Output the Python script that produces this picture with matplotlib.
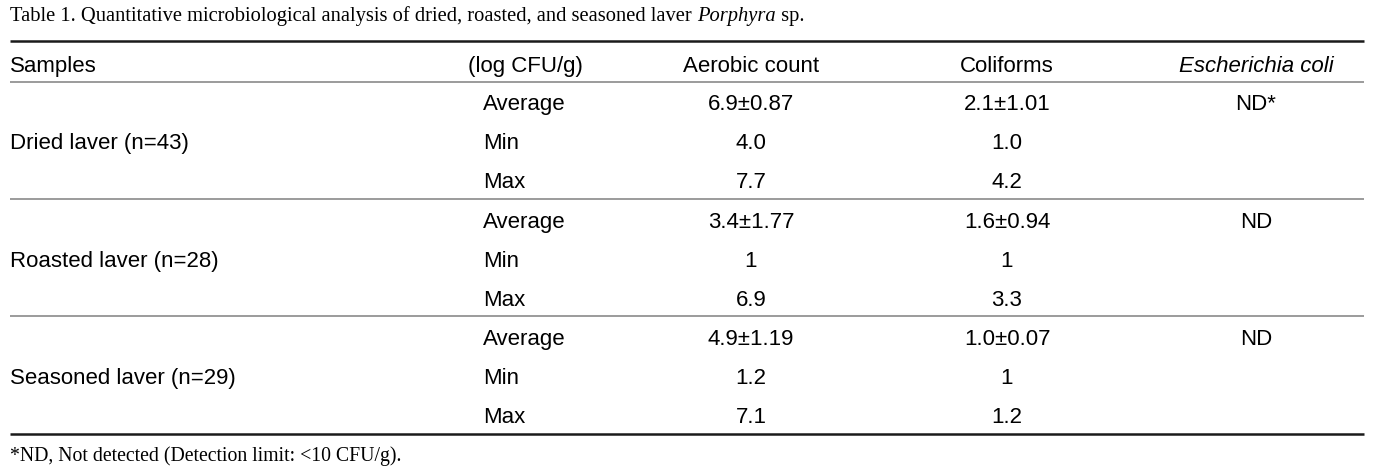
import matplotlib
matplotlib.use("Agg")
import matplotlib.pyplot as plt

title = "Table 1. Quantitative microbiological analysis of dried, roasted, and seasoned laver "
title_italic = "Porphyra"
title_end = " sp."
headers = ["Samples", "(log CFU/g)", "Aerobic count", "Coliforms", "Escherichia coli"]
samples = ["Dried laver (n=43)", "Roasted laver (n=28)", "Seasoned laver (n=29)"]
stats = ["Average", "Min", "Max"]
aerobic = [["6.9±0.87", "4.0", "7.7"], ["3.4±1.77", "1", "6.9"], ["4.9±1.19", "1.2", "7.1"]]
coliforms = [["2.1±1.01", "1.0", "4.2"], ["1.6±0.94", "1", "3.3"], ["1.0±0.07", "1", "1.2"]]
ecoli = ["ND*", "ND", "ND"]
footnote = "*ND, Not detected (Detection limit: <10 CFU/g)."

sans = "Liberation Sans"
serif = "Liberation Serif"

W, H = 1384, 470
fig = plt.figure(figsize=(W / 100, H / 100), dpi=100)
ax = fig.add_axes([0, 0, 1, 1])
ax.set_xlim(0, W)
ax.set_ylim(H, 0)
ax.axis("off")

fs = 16
tfs = 14.8
ffs = 14.2

# title (three runs: roman, italic, roman)
fig.canvas.draw()
r = fig.canvas.get_renderer()
ty = H - 21
t = ax.text(10, 21, title, family=serif, fontsize=tfs, va="baseline", ha="left")
bb = t.get_window_extent(r)
t2 = ax.text(bb.x1, ty, title_italic, family=serif, style="italic", fontsize=tfs,
             va="baseline", ha="left", transform=None)
bb2 = t2.get_window_extent(r)
ax.text(bb2.x1, ty, title_end, family=serif, fontsize=tfs, va="baseline", ha="left",
        transform=None)

x0, x1 = 10, 1364
ax.plot([x0, x1], [41, 41], color="#1a1a1a", lw=1.8, solid_capstyle="butt")
for yy in (82, 199, 316):
    ax.plot([x0, x1], [yy, yy], color="#808080", lw=1.1, solid_capstyle="butt")
ax.plot([x0, x1], [434, 434], color="#1a1a1a", lw=1.8, solid_capstyle="butt")

hy = 72
col_stat_x = 483
cols_c = [751, 1007, 1256]
ax.text(10, hy, headers[0], family=sans, fontsize=fs, va="baseline", ha="left")
ax.text(525, hy, headers[1], family=sans, fontsize=fs, va="baseline", ha="center")
ax.text(cols_c[0], hy, headers[2], family=sans, fontsize=fs, va="baseline", ha="center")
ax.text(cols_c[1], hy, headers[3], family=sans, fontsize=fs, va="baseline", ha="center")
ax.text(cols_c[2], hy, headers[4], family=sans, style="italic", fontsize=fs,
        va="baseline", ha="center")

row0 = [110, 228, 345]
dy = 39
for g, s in enumerate(samples):
    ax.text(10, row0[g] + dy, s, family=sans, fontsize=fs, va="baseline", ha="left")
    for k, st in enumerate(stats):
        y = row0[g] + k * dy
        ax.text(col_stat_x, y, st, family=sans, fontsize=fs, va="baseline", ha="left")
        ax.text(cols_c[0], y, aerobic[g][k], family=sans, fontsize=fs, va="baseline", ha="center")
        ax.text(cols_c[1], y, coliforms[g][k], family=sans, fontsize=fs, va="baseline", ha="center")
    ax.text(cols_c[2], row0[g], ecoli[g], family=sans, fontsize=fs, va="baseline", ha="center")

ax.text(10, 461, footnote, family=serif, fontsize=ffs, va="baseline", ha="left")

fig.savefig("out.png", dpi=100)
